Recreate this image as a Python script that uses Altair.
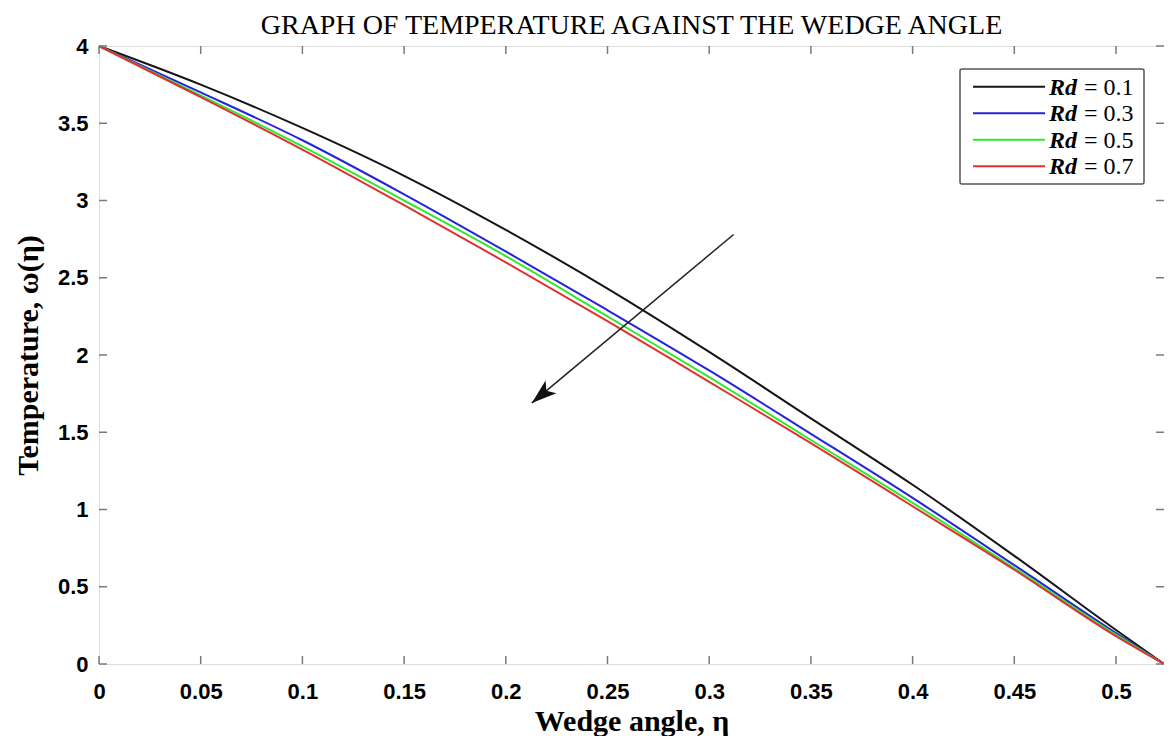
import altair as alt
import pandas as pd

# ---- data ----
eta = [0, 0.05, 0.1, 0.15, 0.2, 0.25, 0.3, 0.35, 0.4, 0.45, 0.5, 0.5236]
rd_01 = [4.0, 3.75, 3.47, 3.16, 2.81, 2.43, 2.02, 1.59, 1.16, 0.70, 0.22, 0.0]
rd_03 = [4.0, 3.70, 3.39, 3.04, 2.67, 2.29, 1.90, 1.49, 1.075, 0.64, 0.20, 0.0]
rd_05 = [4.0, 3.68, 3.35, 3.00, 2.64, 2.25, 1.857, 1.45, 1.043, 0.62, 0.19, 0.0]
rd_07 = [4.0, 3.67, 3.33, 2.97, 2.60, 2.22, 1.826, 1.43, 1.021, 0.61, 0.18, 0.0]
series_names = ["Rd = 0.1", "Rd = 0.3", "Rd = 0.5", "Rd = 0.7"]
legend_values = ["= 0.1", "= 0.3", "= 0.5", "= 0.7"]
series_colors = ["#151515", "#2424d8", "#2ee82e", "#e23030"]
x_ticks = [0, 0.05, 0.1, 0.15, 0.2, 0.25, 0.3, 0.35, 0.4, 0.45, 0.5]
y_ticks = [0, 0.5, 1, 1.5, 2, 2.5, 3, 3.5, 4]
arrow_x = [0.312, 0.2128]
arrow_y = [2.78, 1.69]
title_text = "GRAPH OF TEMPERATURE AGAINST THE WEDGE ANGLE"

W, H = 1065, 618
XMAX = 0.5236
AXIS_GRAY = "#7a7a7a"

rows = []
for name, vals in zip(series_names, [rd_01, rd_03, rd_05, rd_07]):
    for e, v in zip(eta, vals):
        rows.append({"eta": e, "omega": v, "series": name})
df = pd.DataFrame(rows)

xscale = alt.Scale(domain=[0, XMAX], nice=False, zero=False)
yscale = alt.Scale(domain=[0, 4], nice=False)

lines = alt.Chart(df).mark_line(strokeWidth=2, interpolate="monotone").encode(
    x=alt.X("eta:Q", scale=xscale,
            axis=alt.Axis(values=x_ticks, format="~g", ticks=False, domain=False, grid=False,
                          labelFont="Liberation Sans", labelFontSize=22,
                          labelFontWeight="bold", labelColor="black",
                          labelPadding=17, labelFlush=False,
                          title="Wedge angle, η", titleFont="Liberation Serif",
                          titleFontSize=30, titleFontWeight="bold",
                          titleColor="black", titleBaseline="alphabetic",
                          titleY=66)),
    y=alt.Y("omega:Q", scale=yscale,
            axis=alt.Axis(values=y_ticks, format="~g", ticks=False, domain=False, grid=False,
                          labelFont="Liberation Sans", labelFontSize=22,
                          labelFontWeight="bold", labelColor="black",
                          labelPadding=11, labelFlush=False,
                          title="Temperature, ω(η)", titleFont="Liberation Serif",
                          titleFontSize=30, titleFontWeight="bold",
                          titleColor="black", titleX=-71, titleY=H / 2,
                          titleAngle=-90, titleBaseline="middle", titleAlign="center")),
    color=alt.Color("series:N", scale=alt.Scale(domain=series_names, range=series_colors),
                    legend=None),
    order=alt.Order("eta:Q"),
)

# inward ticks on all four sides
xt = pd.DataFrame({"t": x_ticks})
yt = pd.DataFrame({"t": y_ticks})
TL = 8
tick_bottom = alt.Chart(xt).mark_rule(color=AXIS_GRAY, strokeWidth=1.5).encode(
    x=alt.X("t:Q", scale=xscale), y=alt.value(H), y2=alt.value(H - TL))
tick_top = alt.Chart(xt).mark_rule(color=AXIS_GRAY, strokeWidth=1.5).encode(
    x=alt.X("t:Q", scale=xscale), y=alt.value(0), y2=alt.value(TL))
tick_left = alt.Chart(yt).mark_rule(color=AXIS_GRAY, strokeWidth=1.5).encode(
    y=alt.Y("t:Q", scale=yscale), x=alt.value(0), x2=alt.value(TL))
tick_right = alt.Chart(yt).mark_rule(color=AXIS_GRAY, strokeWidth=1.5).encode(
    y=alt.Y("t:Q", scale=yscale), x=alt.value(W), x2=alt.value(W - TL))

# arrow annotation
adf = pd.DataFrame({"x": [arrow_x[0]], "y": [arrow_y[0]], "x2": [arrow_x[1]], "y2": [arrow_y[1]]})
arrow_line = alt.Chart(adf).mark_rule(color="#222222", strokeWidth=1.5).encode(
    x=alt.X("x:Q", scale=xscale), y=alt.Y("y:Q", scale=yscale),
    x2="x2:Q", y2="y2:Q")
head_df = pd.DataFrame({"x": [arrow_x[1]], "y": [arrow_y[1]]})
arrow_head = alt.Chart(head_df).mark_point(
    shape="M0,0L0.42,1.25L0,0.95L-0.42,1.25Z", filled=True, color="#111111",
    opacity=1, size=1600, angle=230, strokeWidth=0).encode(
    x=alt.X("x:Q", scale=xscale), y=alt.Y("y:Q", scale=yscale))

# title as a text mark above the plot
title_mark = alt.Chart(pd.DataFrame({"t": [title_text]})).mark_text(
    font="Liberation Serif", fontSize=28, color="black", align="center",
    baseline="alphabetic").encode(text="t:N", x=alt.value(W / 2), y=alt.value(-12))

# custom legend (top right, inside the plot)
LX1 = W - 20
LX0 = LX1 - 184
LY0, LY1 = 23, 138
legend_layers = [
    alt.Chart(pd.DataFrame({"a": [0]})).mark_rect(
        fill="white", stroke="#555555", strokeWidth=1.5, cornerRadius=2).encode(
        x=alt.value(LX0), x2=alt.value(LX1), y=alt.value(LY0), y2=alt.value(LY1))
]
for i, (name, val, col) in enumerate(zip(series_names, legend_values, series_colors)):
    ry = 40.7 + i * 26.5
    one = pd.DataFrame({"series": [name], "v": [val]})
    legend_layers.append(
        alt.Chart(one).mark_rule(color=col, strokeWidth=2).encode(
            x=alt.value(LX0 + 13), x2=alt.value(LX0 + 85), y=alt.value(ry)))
    legend_layers.append(
        alt.Chart(one).mark_text(text="Rd", font="Liberation Serif", fontSize=24,
                                 fontStyle="italic", fontWeight="bold", align="left",
                                 baseline="middle", color="black").encode(
            x=alt.value(LX0 + 89), y=alt.value(ry + 1)))
    legend_layers.append(
        alt.Chart(one).mark_text(font="Liberation Serif", fontSize=24, align="left",
                                 baseline="middle", color="black").encode(
            text="v:N", x=alt.value(LX0 + 124), y=alt.value(ry + 1)))

chart = alt.layer(
    lines, tick_bottom, tick_top, tick_left, tick_right, arrow_line, arrow_head,
    title_mark, *legend_layers
).properties(
    width=W, height=H,
    padding={"left": 91, "top": 38, "right": 0, "bottom": 72},
    autosize="none",
).configure_view(stroke=AXIS_GRAY, strokeWidth=1.5).configure(background="white")

chart.save("out.html", embed_options={"renderer": "svg", "actions": False})
